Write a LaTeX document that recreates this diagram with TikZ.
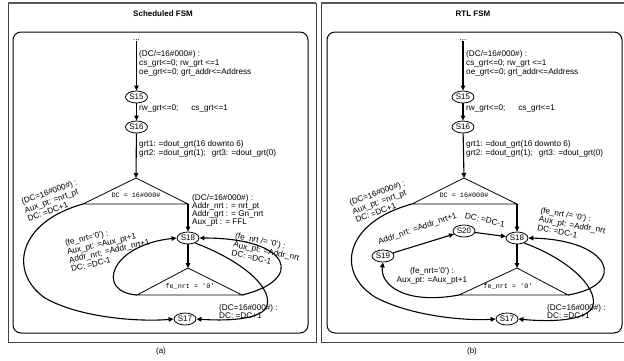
\documentclass[tikz,border=0pt]{standalone}
\usepackage{fontspec}
\setmainfont{Liberation Sans}
\setmonofont{Liberation Mono}
\usetikzlibrary{arrows.meta,shapes.geometric}
\begin{document}
\begin{tikzpicture}[x=1pt,y=-1pt,
  lbl/.style={font=\fontsize{8.2}{8.8}\selectfont, inner sep=0pt, align=left},
  tight/.style={font=\fontsize{8.2}{8.2}\selectfont},
  rot/.style={font=\fontsize{8.2}{9}\selectfont},
  ctr/.style={font=\fontsize{8.2}{8.4}\selectfont, inner sep=0pt, align=center},
  mono/.style={font=\ttfamily\fontsize{6.8}{8}\selectfont, inner sep=0pt},
  fsmstate/.style={draw, ellipse, line width=0.8pt, minimum width=22pt, minimum height=12pt, inner sep=0pt, font=\fontsize{8}{8}\selectfont},
  conn/.style={line width=1.1pt, -{Triangle[length=5pt,width=4.5pt]}},
  tri/.style={line width=0.8pt},
  frm/.style={line width=0.9pt, draw=black!75},
  topfrm/.style={line width=1.8pt, draw=black!65},
  panel/.style={line width=1pt, rounded corners=8pt},
  ttl/.style={font=\bfseries\fontsize{8}{9}\selectfont},
  captxt/.style={font=\fontsize{8}{9}\selectfont}
]
\useasboundingbox (0,0) rectangle (624,360);
% frames
\draw[frm] (8,3) rectangle (316,342);
\draw[frm] (624,3) -- (321,3) -- (321,342) -- (624,342);
\draw[topfrm] (8,3) -- (316,3);
\draw[topfrm] (321,3) -- (624,3);
\draw[panel] (13,32) rectangle (308,333);
\draw[panel] (327,32) rectangle (622,333);
\node[ttl] (ta) at (163,14) {Scheduled FSM};
\node[ttl] (tb) at (473,14) {RTL FSM};
\node[captxt] (ca) at (161,351) {(a)};
\node[captxt] (cb) at (472,351) {(b)};

% ================= (a) =================
\node[lbl] (dotsa) at (136.5,40.5) {...};
\node[fsmstate] (s15a) at (136.5,97) {S15};
\node[fsmstate] (s16a) at (136.5,127) {S16};
\coordinate (t1a) at (136,178);
\coordinate (t1al) at (83,204);
\coordinate (t1ar) at (188,204);
\node[fsmstate] (s18a) at (188,238) {S18};
\coordinate (t2a) at (188,268);
\coordinate (t2al) at (137,295);
\coordinate (t2ar) at (242,295);
\node[fsmstate] (s17a) at (185,319) {S17};

\draw[tri] (t1al) -- (t1a) -- (t1ar) -- cycle;
\draw[tri] (t2al) -- (t2a) -- (t2ar) -- cycle;
\node[mono] (m1a) at (136,195) {DC = 16\#000\#};
\node[mono] (m2a) at (190,286) {fe\_nrt = '0'};

\draw[conn] (dotsa) -- (s15a);
\draw[conn] (s15a) -- (s16a);
\draw[conn] (s16a) -- (t1a);
\draw[conn] (t1ar) -- (s18a);
\draw[conn] (s18a) -- (t2a);
\draw[conn] (t1al) .. controls (18,222) and (8,272) .. (45,298) .. controls (80,318) and (140,322) .. (s17a.west);
\draw[conn] (s18a.-35) .. controls (245,262) and (275,290) .. (266,308) .. controls (258,320) and (225,321) .. (s17a.east);
\draw[conn] (t2al) .. controls (95,292) and (110,245) .. (s18a.west);
\draw[conn] (t2ar) .. controls (305,280) and (292,238) .. (s18a.east);

\node[lbl, anchor=west] (ha) at (139,63.5) {(DC/=16\#000\#) :\\cs\_grt<=0; rw\_grt <=1\\oe\_grt<=0; grt\_addr<=Address};
\node[lbl, anchor=west] (ra) at (139,108) {rw\_grt<=0;\hspace{13pt}cs\_grt<=1};
\node[lbl, anchor=west] (ga) at (139,148.5) {grt1: =dout\_grt(16 downto 6)\\grt2: =dout\_grt(1);\hspace{6pt}grt3: =dout\_grt(0)};
\node[lbl, tight, anchor=west] (qa) at (192,210.5) {(DC/=16\#000\#) :\\Addr\_nrt : = nrt\_pt\\Addr\_grt : = Gn\_nrt\\Aux\_pt : = FFL};
\node[lbl, rot, anchor=west, rotate=20] (da) at (24.5,210.5) {(DC=16\#000\#) :\\Aux\_pt: =nrt\_pt\\DC: =DC+1};
\node[lbl, rot, anchor=west, rotate=13] (la) at (68,256) {(fe\_nrt='0') :\\Aux\_pt: =Aux\_pt+1\\Addr\_nrt: =Addr\_nrt+1\\DC: =DC-1};
\node[lbl, rot, anchor=west, rotate=-12] (na) at (233.5,244) {(fe\_nrt /= '0') :\\Aux\_pt: =Addr\_nrt\\DC: =DC-1};
\node[lbl, anchor=west] (ea) at (219,311.5) {(DC=16\#000\#) :\\DC: =DC+1};

% ================= (b) =================
\node[lbl] (dotsb) at (463,40.5) {...};
\node[fsmstate] (s15b) at (463,97) {S15};
\node[fsmstate] (s16b) at (463,127) {S16};
\coordinate (t1b) at (464,178);
\coordinate (t1bl) at (412,204);
\coordinate (t1br) at (517,204);
\node[fsmstate] (s18b) at (517,238) {S18};
\node[fsmstate] (s20b) at (464,231) {S20};
\node[fsmstate] (s19b) at (383,256) {S19};
\coordinate (t2b) at (517,268);
\coordinate (t2bl) at (459,295);
\coordinate (t2br) at (568,295);
\node[fsmstate] (s17b) at (507,319) {S17};

\draw[tri] (t1bl) -- (t1b) -- (t1br) -- cycle;
\draw[tri] (t2bl) -- (t2b) -- (t2br) -- cycle;
\node[mono] (m1b) at (464,195) {DC = 16\#000\#};
\node[mono] (m2b) at (508,286) {fe\_nrt = '0'};

\draw[conn] (dotsb) -- (s15b);
\draw[conn] (s15b) -- (s16b);
\draw[conn] (s16b) -- (t1b);
\draw[conn] (t1br) -- (s18b);
\draw[conn] (s18b) -- (t2b);
\draw[conn] (s19b) -- (s20b);
\draw[conn] (s20b) -- (s18b);
\draw[conn] (t1bl) .. controls (345,222) and (335,272) .. (375,297) .. controls (410,316) and (465,321) .. (s17b.west);
\draw[conn] (s18b.-35) .. controls (575,262) and (600,292) .. (592,308) .. controls (584,321) and (550,322) .. (s17b.east);
\draw[conn] (t2bl) .. controls (405,305) and (380,285) .. (s19b.south);
\draw[conn] (t2br) .. controls (628,285) and (612,240) .. (s18b.east);

\node[lbl, anchor=west] (hb) at (466,63.5) {(DC/=16\#000\#) :\\cs\_grt<=0; rw\_grt <=1\\oe\_grt<=0; grt\_addr<=Address};
\node[lbl, anchor=west] (rb) at (466,108) {rw\_grt<=0;\hspace{13pt}cs\_grt<=1};
\node[lbl, anchor=west] (gb) at (466,148.5) {grt1: =dout\_grt(16 downto 6)\\grt2: =dout\_grt(1);\hspace{6pt}grt3: =dout\_grt(0)};
\node[lbl, rot, anchor=west, rotate=20] (db) at (352.5,211.5) {(DC=16\#000\#) :\\Aux\_pt: =nrt\_pt\\DC: =DC+1};
\node[lbl, rotate=19] (ab) at (417.5,229) {Addr\_nrt: =Addr\_nrt+1};
\node[lbl, rotate=-12] (cb2) at (485,220) {DC: =DC-1};
\node[lbl, rot, anchor=west, rotate=-10] (nb) at (539,219) {(fe\_nrt /= '0') :\\Aux\_pt: =Addr\_nrt\\DC: =DC-1};
\node[ctr] (fb) at (432,276) {(fe\_nrt='0') :\\Aux\_pt: =Aux\_pt+1};
\node[lbl, anchor=west] (eb) at (547,311.5) {(DC=16\#000\#) :\\DC: =DC+1};
\end{tikzpicture}
\end{document}
